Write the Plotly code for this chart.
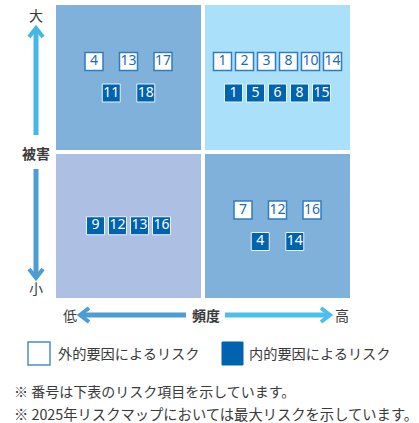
import plotly.graph_objects as go

# Achsen: Häufigkeit (x) und Schaden (y)
frequency_labels = ["低", "高"]
damage_labels = ["小", "大"]
# Farbton je Feld (Zeile = Schaden klein/groß, Spalte = Häufigkeit niedrig/hoch)
# 0 = lavendel, 1 = mittelblau, 2 = hellblau
cell_tone = [[0, 1], [1, 2]]

# Risiko-Nummern je Feld
external_low_freq_high_dmg = [4, 13, 17]
internal_low_freq_high_dmg = [11, 18]
external_high_freq_high_dmg = [1, 2, 3, 8, 10, 14]
internal_high_freq_high_dmg = [1, 5, 6, 8, 15]
external_low_freq_low_dmg = []
internal_low_freq_low_dmg = [9, 12, 13, 16]
external_high_freq_low_dmg = [7, 12, 16]
internal_high_freq_low_dmg = [4, 14]

legend_labels = ["外的要因によるリスク", "内的要因によるリスク"]
notes = ["※ 番号は下表のリスク項目を示しています。",
         "※ 2025年リスクマップにおいては最大リスクを示しています。"]

W, H = 419, 423
L, R, T, B = 54, 67, 3, 123
PW, PH = W - L - R, H - T - B
CW, CH = PW / 2, PH / 2  # Pixel pro Feld

JP = "Noto Sans CJK JP"
TXT = "#3a3a3a"
BLUE = "#0063b0"
EDGE = "#2f7cc0"


def px(x):
    return (x - L) / PW


def py(y):
    return (T + PH - y) / PH


# Felder zusammenstellen: (Spalte, Zeile, extern, intern)
cells = [
    (0, 1, external_low_freq_high_dmg, internal_low_freq_high_dmg),
    (1, 1, external_high_freq_high_dmg, internal_high_freq_high_dmg),
    (0, 0, external_low_freq_low_dmg, internal_low_freq_low_dmg),
    (1, 0, external_high_freq_low_dmg, internal_high_freq_low_dmg),
]

ext_x, ext_y, ext_t = [], [], []
int_x, int_y, int_t = [], [], []
for cx, cy, ext, inn in cells:
    rows = [r for r in (ext, inn) if r]
    step = 22 if max(len(r) for r in rows) >= 4 else 34.5
    for k, (row, xs, ys, ts) in enumerate([(ext, ext_x, ext_y, ext_t),
                                           (inn, int_x, int_y, int_t)]):
        if not row:
            continue
        dy = 0 if len(rows) == 1 else (15.75 if k == 0 else -15.75)
        for i, n in enumerate(row):
            off = (i - (len(row) - 1) / 2) * step
            xs.append(cx + off / CW)
            ys.append(cy + dy / CH)
            ts.append(str(n))

fig = go.Figure()

# Hintergrund-Felder als Heatmap mit Lücken
fig.add_trace(go.Heatmap(
    x=[0, 1], y=[0, 1], z=cell_tone,
    colorscale=[[0, "#adbfe3"], [0.5, "#80b1da"], [1, "#aae0fa"]],
    zmin=0, zmax=2, xgap=4, ygap=4, showscale=False, hoverinfo="skip"
))

# Externe Risiken: weiße Kästchen
fig.add_trace(go.Scatter(
    x=ext_x, y=ext_y, text=ext_t, mode="markers+text",
    marker=dict(symbol="square", size=18, color="white",
                line=dict(color=EDGE, width=1.5)),
    textposition="middle center",
    textfont=dict(family="Noto Sans", size=14, color="#1d6cb5"),
    hoverinfo="skip", showlegend=False
))

# Interne Risiken: blaue Kästchen
fig.add_trace(go.Scatter(
    x=int_x, y=int_y, text=int_t, mode="markers+text",
    marker=dict(symbol="square", size=18, color=BLUE,
                line=dict(color="#e8f2fb", width=1)),
    textposition="middle center",
    textfont=dict(family="Noto Sans", size=14, color="white"),
    hoverinfo="skip", showlegend=False
))

shapes = []


def arrow(x0, y0, x1, y1, color):
    # Schaft
    shapes.append(dict(type="line", xref="paper", yref="paper",
                       x0=px(x0), y0=py(y0), x1=px(x1), y1=py(y1),
                       line=dict(color=color, width=5)))
    # Pfeilspitze (Winkel)
    if x0 == x1:
        s = 1 if y1 > y0 else -1
        pts = [(x1 - 7, y1 - s * 8), (x1, y1 + s), (x1 + 7, y1 - s * 8)]
    else:
        s = 1 if x1 > x0 else -1
        pts = [(x1 - s * 8, y1 - 7), (x1 + s, y1), (x1 - s * 8, y1 + 7)]
    path = "M" + " L".join(f"{px(a):.5f},{py(b):.5f}" for a, b in pts)
    shapes.append(dict(type="path", xref="paper", yref="paper", path=path,
                       line=dict(color=color, width=4)))


arrow(36, 135, 36, 29, "#46b6e8")
arrow(36, 169, 36, 277, "#4a9dd6")
arrow(186, 315, 81, 315, "#4a9dd6")
arrow(225, 315, 329, 315, "#4cbfec")

# Legende
shapes.append(dict(type="rect", xref="paper", yref="paper",
                   x0=px(28), x1=px(50), y0=py(365), y1=py(342),
                   fillcolor="white", line=dict(color="#4a8fcc", width=1.5)))
shapes.append(dict(type="rect", xref="paper", yref="paper",
                   x0=px(222), x1=px(243), y0=py(365), y1=py(342),
                   fillcolor=BLUE, line=dict(color=BLUE, width=1)))

annotations = []


def label(text, x, y, size=14, anchor="center", bold=False):
    annotations.append(dict(
        text=f"<b>{text}</b>" if bold else text,
        xref="paper", yref="paper", x=px(x), y=py(y),
        xanchor=anchor, yanchor="middle", showarrow=False,
        font=dict(family=JP, size=size, color=TXT)))


label(damage_labels[1], 36, 15)
label("被害", 36, 153, bold=True)
label(damage_labels[0], 36, 288)
label(frequency_labels[0], 70, 315)
label("頻度", 206, 315, bold=True)
label(frequency_labels[1], 342, 315)
label(legend_labels[0], 56, 353, size=14.2, anchor="left")
label(legend_labels[1], 247, 353, size=14.2, anchor="left")
label(notes[0], 12, 391, size=14, anchor="left")
label(notes[1], 12, 413, size=14.3, anchor="left")

fig.update_layout(
    width=W, height=H,
    margin=dict(l=L, r=R, t=T, b=B),
    paper_bgcolor="white", plot_bgcolor="white",
    xaxis=dict(range=[-0.5, 1.5], visible=False, fixedrange=True),
    yaxis=dict(range=[-0.5, 1.5], visible=False, fixedrange=True),
    shapes=shapes, annotations=annotations,
    showlegend=False
)

# Seitenrand des Browsers entfernen, damit die Grafik bündig sitzt
fig.write_html("out.html", config={"displayModeBar": False},
               post_script="document.body.style.margin='0';")
